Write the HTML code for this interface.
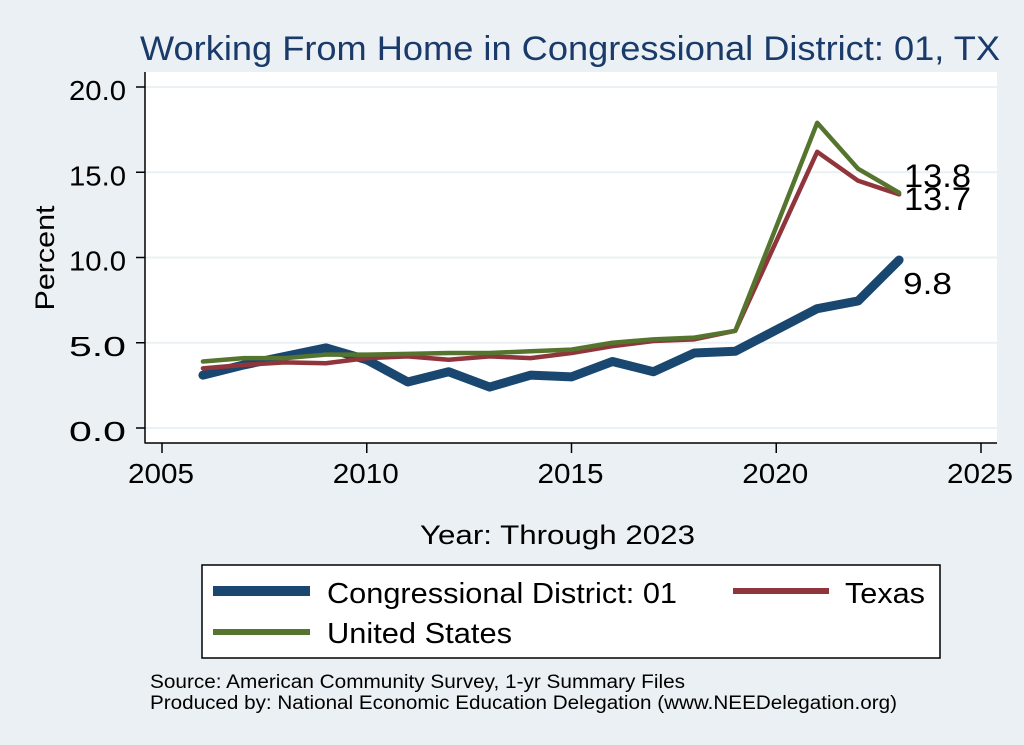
<!DOCTYPE html>
<html><head><meta charset="utf-8"><style>
html,body{margin:0;padding:0;background:#eaf0f3;}
svg{display:block;font-family:"Liberation Sans",Arial,sans-serif;}
</style></head><body>
<svg id="s" width="1024" height="745" viewBox="0 0 1024 745" xmlns="http://www.w3.org/2000/svg">
<rect width="1024" height="745" fill="#eaf0f3"/>
<rect x="145" y="72" width="852" height="371" fill="#fff"/>
<text x="140" y="60" font-size="34" fill="#1a3a6a" textLength="860" lengthAdjust="spacingAndGlyphs">Working From Home in Congressional District: 01, TX</text>
<g id="grid"></g>
<line x1="145" y1="72" x2="145" y2="443.5" stroke="#000" stroke-width="1.5"/>
<line x1="145" y1="443" x2="997" y2="443" stroke="#000" stroke-width="1.5"/>
<g id="ticks" font-size="28" fill="#000"></g>
<text transform="translate(54,258) rotate(-90)" font-size="27" text-anchor="middle" textLength="105" lengthAdjust="spacingAndGlyphs">Percent</text>
<text x="420" y="544" font-size="27" textLength="275" lengthAdjust="spacingAndGlyphs">Year: Through 2023</text>
<g id="lines" fill="none" stroke-linejoin="round" stroke-linecap="round"></g>
<text x="904" y="187" font-size="32" textLength="67" lengthAdjust="spacingAndGlyphs">13.8</text>
<text x="904" y="210" font-size="32" textLength="67" lengthAdjust="spacingAndGlyphs">13.7</text>
<text x="903" y="294" font-size="31" textLength="49" lengthAdjust="spacingAndGlyphs">9.8</text>
<rect x="202" y="565" width="738" height="93" fill="#fff" stroke="#000" stroke-width="1.5"/>
<line x1="213" y1="591" x2="310" y2="591" stroke="#1a476f" stroke-width="10"/>
<text x="327" y="603" font-size="29" textLength="350" lengthAdjust="spacingAndGlyphs">Congressional District: 01</text>
<line x1="733" y1="591" x2="829" y2="591" stroke="#90353b" stroke-width="6"/>
<text x="845" y="603" font-size="29" textLength="80" lengthAdjust="spacingAndGlyphs">Texas</text>
<line x1="213" y1="632" x2="310" y2="632" stroke="#55752f" stroke-width="6"/>
<text x="327" y="643" font-size="29" textLength="185" lengthAdjust="spacingAndGlyphs">United States</text>
<text x="150" y="688" font-size="19" textLength="535" lengthAdjust="spacingAndGlyphs">Source: American Community Survey, 1-yr Summary Files</text>
<text x="150" y="709" font-size="19" textLength="747" lengthAdjust="spacingAndGlyphs">Produced by: National Economic Education Delegation (www.NEEDelegation.org)</text>
</svg>
<script>
var NS="http://www.w3.org/2000/svg";
function X(yr){return 162+(yr-2005)*40.95;}
function Y(v){return 428-v*17.05;}
function el(p,t,a,txt){var e=document.createElementNS(NS,t);for(var k in a)e.setAttribute(k,a[k]);if(txt!=null)e.textContent=txt;document.getElementById(p).appendChild(e);}
for(var v=0;v<=20;v+=5){
 el("grid","line",{x1:145,x2:997,y1:Y(v),y2:Y(v),stroke:"#eaf0f3","stroke-width":2});
 el("ticks","line",{x1:136,x2:145,y1:Y(v),y2:Y(v),stroke:"#000","stroke-width":1.5});
 el("ticks","text",{x:69,y:Y(v)+13,textLength:57,lengthAdjust:"spacingAndGlyphs"},v.toFixed(1));
}
for(var yr=2005;yr<=2025;yr+=5){
 el("ticks","line",{x1:X(yr),x2:X(yr),y1:443,y2:453,stroke:"#000","stroke-width":1.5});
 el("ticks","text",{x:X(yr)-34,y:483,textLength:66,lengthAdjust:"spacingAndGlyphs"},String(yr));
}
var yrs=[2006,2007,2008,2009,2010,2011,2012,2013,2014,2015,2016,2017,2018,2019,2021,2022,2023];
var us=[3.9,4.1,4.1,4.3,4.3,4.35,4.4,4.4,4.5,4.6,5.0,5.2,5.3,5.7,17.9,15.2,13.8];
var tx=[3.5,3.7,3.85,3.8,4.1,4.2,4.0,4.2,4.1,4.4,4.8,5.1,5.2,5.7,16.2,14.5,13.7];
var cd=[3.1,3.7,4.2,4.7,4.0,2.7,3.3,2.4,3.1,3.0,3.9,3.3,4.4,4.5,7.0,7.45,9.85];
function pl(d,c,w){el("lines","polyline",{points:yrs.map(function(y,i){return X(y)+","+Y(d[i]);}).join(" "),stroke:c,"stroke-width":w});}
pl(cd,"#1a476f",9);pl(tx,"#90353b",4.5);pl(us,"#55752f",4.5);
</script>
</body></html>
